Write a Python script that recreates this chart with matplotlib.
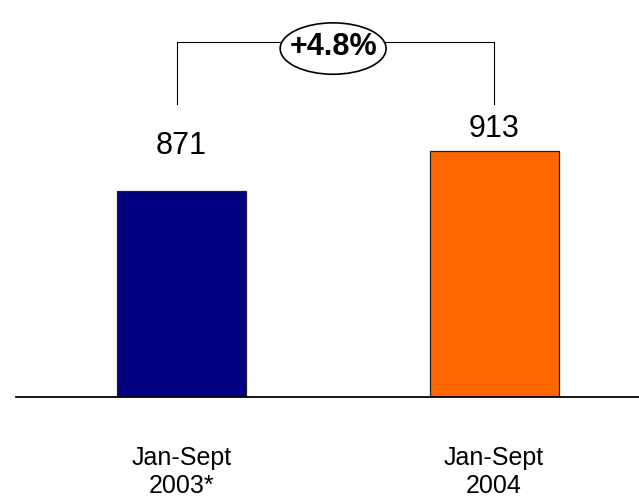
import matplotlib
matplotlib.use("Agg")
import matplotlib.pyplot as plt
from matplotlib.patches import Ellipse

plt.rcParams["font.family"] = ["Liberation Sans", "DejaVu Sans"]

periods = ["Jan-Sept\n2003*", "Jan-Sept\n2004"]
values = [871, 913]
colors = ["#000080", "#FF6600"]
# vertical gap (points) between each bar top and its value label
label_gaps = [22, 5.5]

growth = (values[1] / values[0] - 1) * 100

fig = plt.figure(figsize=(6.39, 4.98), dpi=100)
ax = fig.add_axes([16 / 639, 101 / 498, 623 / 639, 397 / 498])

x = [0, 1]
ax.bar(x, values, width=0.413, bottom=0, color=colors, edgecolor="#222222",
       linewidth=0.9, zorder=2)
ax.set_xlim(-0.53, 1.464)
ax.set_ylim(655, 1072)

for xi, v, gap in zip(x, values, label_gaps):
    ax.annotate(f"{v}", (xi, v), xytext=(0, gap), textcoords="offset points",
                ha="center", va="bottom", fontsize=22)

# growth bracket between the two periods
top, foot = 1028, 963
bx = [-0.015, 1.0]
ax.plot([bx[0], bx[0], bx[1], bx[1]], [foot, top, top, foot],
        color="black", lw=0.8, zorder=3, clip_on=False)
ax.add_patch(Ellipse((0.485, 1021), 0.339, 54, fc="white", ec="black",
                     lw=1.2, zorder=4, clip_on=False))
ax.text(0.485, 1023, f"+{growth:.1f}%", ha="center", va="center",
        fontsize=22, fontweight="bold", zorder=5)

for side in ["top", "right", "left"]:
    ax.spines[side].set_visible(False)
ax.spines["bottom"].set_linewidth(1.3)
ax.set_yticks([])
ax.set_xticks(x)
ax.set_xticklabels(periods, fontsize=18, linespacing=1.25)
ax.tick_params(axis="x", length=0, pad=35)

fig.savefig("out.png", dpi=100)
